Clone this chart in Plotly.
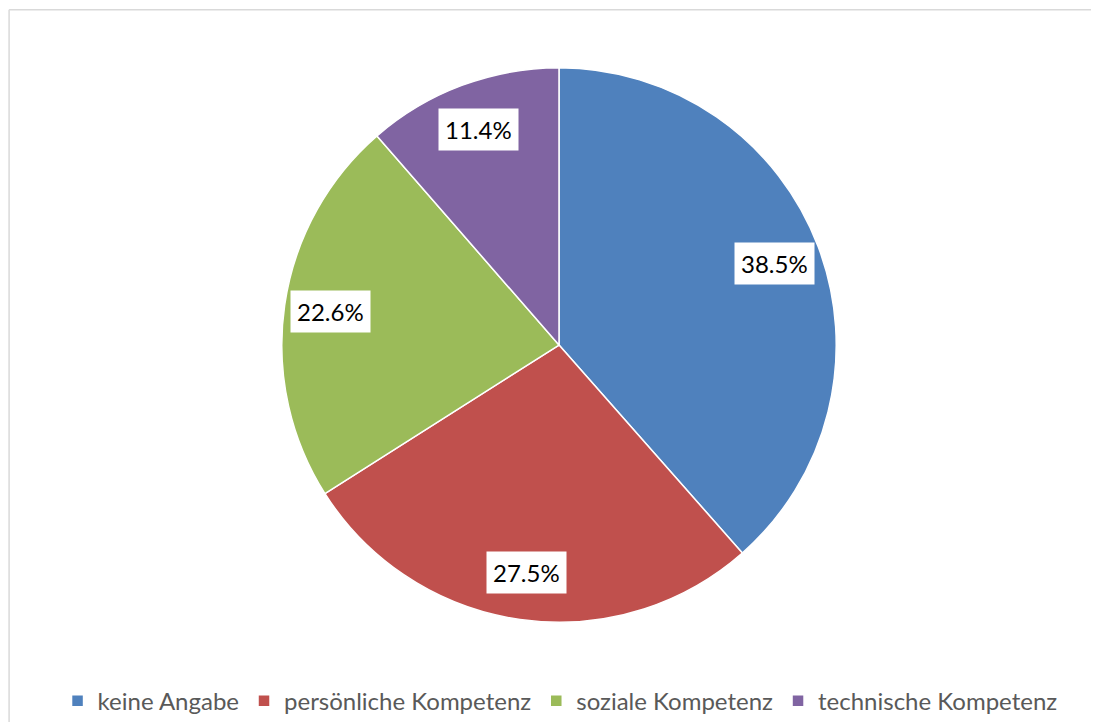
import math

import plotly.graph_objects as go

labels = ["keine Angabe", "persönliche Kompetenz", "soziale Kompetenz", "technische Kompetenz"]
values = [38.5, 27.5, 22.6, 11.4]
colors = ["#4F81BD", "#C0504D", "#9BBB59", "#8064A2"]

# page has an 8px body margin, so the figure is drawn 8px in from the window edge
OFF = 8
W, H = 1099 - OFF, 724 - OFF
cx, cy, r = 559 - OFF, 346 - OFF, 278  # pie centre / radius in pixels

fig = go.Figure(go.Pie(
    labels=labels,
    values=values,
    sort=False,
    direction="clockwise",
    rotation=0,
    marker=dict(colors=colors, line=dict(color="white", width=1.5)),
    textinfo="none",
    hoverinfo="label+percent",
    domain=dict(x=[(cx - r) / W, (cx + r) / W], y=[1 - (cy + r) / H, 1 - (cy - r) / H]),
))

# value labels with white boxes, placed at the middle angle of each slice
total = sum(values)
start = 0.0
for v in values:
    mid = math.radians((start + v / 2) / total * 360)
    start += v
    d = 0.83 * r
    px = cx + d * math.sin(mid)
    py = cy - d * math.cos(mid)
    fig.add_annotation(
        x=px / W, y=1 - py / H, xref="paper", yref="paper",
        xanchor="center", yanchor="middle",
        text=f"{v / total * 100:.1f}%", showarrow=False,
        font=dict(family="Lato, Open Sans, sans-serif", size=24, color="#000000"),
        bgcolor="white", borderpad=6,
    )

# chart-area frame (only top and left edges are visible in the window)
frame_top = 1 - (9 - OFF) / H - 0.001
fig.add_shape(type="line", xref="paper", yref="paper", x0=0.001, y0=frame_top, x1=1.0, y1=frame_top,
              line=dict(color="#D9D9D9", width=1.5))
fig.add_shape(type="line", xref="paper", yref="paper", x0=0.001, y0=0, x1=0.001, y1=frame_top,
              line=dict(color="#D9D9D9", width=1.5))

fig.update_layout(
    width=W, height=H,
    paper_bgcolor="white",
    margin=dict(l=0, r=0, t=0, b=0),
    showlegend=True,
    legend=dict(orientation="h", x=0.506, xanchor="center", y=1 - (703 - OFF) / H, yanchor="middle",
                font=dict(family="Lato, Open Sans, sans-serif", size=24, color="#595959"),
                itemwidth=30, tracegroupgap=0),
)

fig.write_html("out.html")
